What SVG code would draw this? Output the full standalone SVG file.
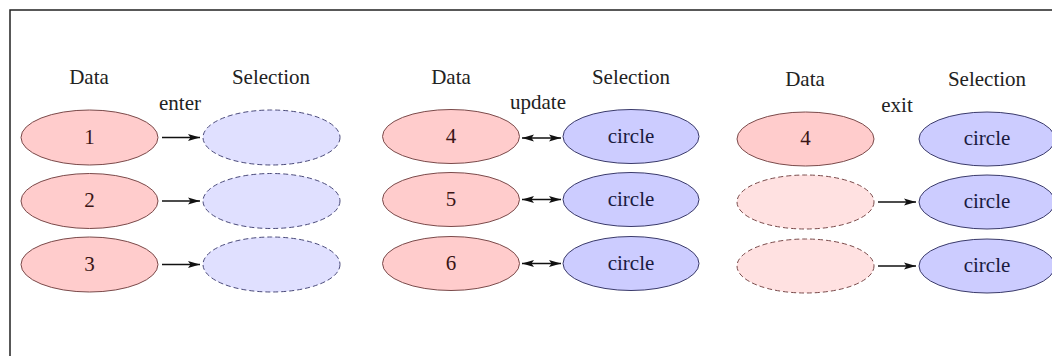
<svg xmlns="http://www.w3.org/2000/svg" width="1052" height="356" viewBox="0 0 1052 356" font-family="'Liberation Serif', 'DejaVu Serif', serif">
<style>
text{font-family:'Liberation Serif','DejaVu Serif',serif;font-size:21px;text-anchor:middle;fill:#222}
.data{fill:#ffcccc;stroke:#7a4a4a;stroke-width:1}
.dataX{fill:#ffe1e1;stroke:#7a4a4a;stroke-width:1;stroke-dasharray:5,3}
.sel{fill:#ccccff;stroke:#3a3a6a;stroke-width:1}
.selE{fill:#e0e0ff;stroke:#4a4a7a;stroke-width:1;stroke-dasharray:5,3}
.num{fill:#3a1515}
.lab{fill:#1a1a40}
.conn{stroke:#111;stroke-width:1.5;fill:none}
</style>
<defs>
<marker id="ah" viewBox="0 0 12 10" refX="12" refY="5" markerWidth="12" markerHeight="10" orient="auto-start-reverse" markerUnits="userSpaceOnUse">
<path d="M0,1.5 L12,5 L0,8.5 L2.5,5 z" fill="#111"/>
</marker>
</defs>
<rect x="10" y="10" width="1100" height="400" fill="#fff" stroke="#222" stroke-width="1.5"/>
<g id="titles">
<text x="89" y="84">Data</text>
<text x="271" y="84">Selection</text>
<text x="451" y="84">Data</text>
<text x="631" y="84">Selection</text>
<text x="805" y="86">Data</text>
<text x="987" y="86">Selection</text>
<text x="180" y="110">enter</text>
<text x="538" y="109">update</text>
<text x="897" y="112">exit</text>
</g>
<g id="d1"><ellipse class="data" cx="89.5" cy="137.5" rx="68.5" ry="27.5"/><text class="num" x="89.5" y="144">1</text></g>
<g id="d2"><ellipse class="data" cx="89.5" cy="201" rx="68.5" ry="27.5"/><text class="num" x="89.5" y="207">2</text></g>
<g id="d3"><ellipse class="data" cx="89.5" cy="264.5" rx="68.5" ry="27.5"/><text class="num" x="89.5" y="271">3</text></g>
<g id="s1"><ellipse class="selE" cx="271.5" cy="137.5" rx="68.5" ry="27.5"/></g>
<g id="s2"><ellipse class="selE" cx="271.5" cy="201" rx="68.5" ry="27.5"/></g>
<g id="s3"><ellipse class="selE" cx="271.5" cy="264.5" rx="68.5" ry="27.5"/></g>
<g id="d4"><ellipse class="data" cx="451" cy="136.5" rx="68.5" ry="27"/><text class="num" x="451" y="143">4</text></g>
<g id="d5"><ellipse class="data" cx="451" cy="199.5" rx="68.5" ry="27"/><text class="num" x="451" y="206">5</text></g>
<g id="d6"><ellipse class="data" cx="451" cy="263.5" rx="68.5" ry="27"/><text class="num" x="451" y="270">6</text></g>
<g id="s4"><ellipse class="sel" cx="631" cy="136.5" rx="68" ry="27"/><text class="lab" x="631" y="143">circle</text></g>
<g id="s5"><ellipse class="sel" cx="631" cy="199.5" rx="68" ry="27"/><text class="lab" x="631" y="206">circle</text></g>
<g id="s6"><ellipse class="sel" cx="631" cy="263.5" rx="68" ry="27"/><text class="lab" x="631" y="270">circle</text></g>
<g id="d7"><ellipse class="data" cx="805.5" cy="139" rx="68.5" ry="27"/><text class="num" x="805.5" y="145">4</text></g>
<g id="d8"><ellipse class="dataX" cx="805.5" cy="202" rx="68.5" ry="27"/></g>
<g id="d9"><ellipse class="dataX" cx="805.5" cy="266" rx="68.5" ry="27"/></g>
<g id="s7"><ellipse class="sel" cx="987" cy="139" rx="68" ry="27"/><text class="lab" x="987" y="145">circle</text></g>
<g id="s8"><ellipse class="sel" cx="987" cy="202" rx="68" ry="27"/><text class="lab" x="987" y="208">circle</text></g>
<g id="s9"><ellipse class="sel" cx="987" cy="266" rx="68" ry="27"/><text class="lab" x="987" y="272">circle</text></g>
<g id="connectors">
<line class="conn" x1="162" y1="137.5" x2="200" y2="137.5" marker-end="url(#ah)"/>
<line class="conn" x1="162" y1="201" x2="200" y2="201" marker-end="url(#ah)"/>
<line class="conn" x1="162" y1="264.5" x2="200" y2="264.5" marker-end="url(#ah)"/>
<line class="conn" x1="522" y1="138" x2="561" y2="138" marker-start="url(#ah)" marker-end="url(#ah)"/>
<line class="conn" x1="522" y1="199.5" x2="561" y2="199.5" marker-start="url(#ah)" marker-end="url(#ah)"/>
<line class="conn" x1="522" y1="263.5" x2="561" y2="263.5" marker-start="url(#ah)" marker-end="url(#ah)"/>
<line class="conn" x1="878" y1="202" x2="916" y2="202" marker-end="url(#ah)"/>
<line class="conn" x1="878" y1="266" x2="916" y2="266" marker-end="url(#ah)"/>
</g>
</svg>
